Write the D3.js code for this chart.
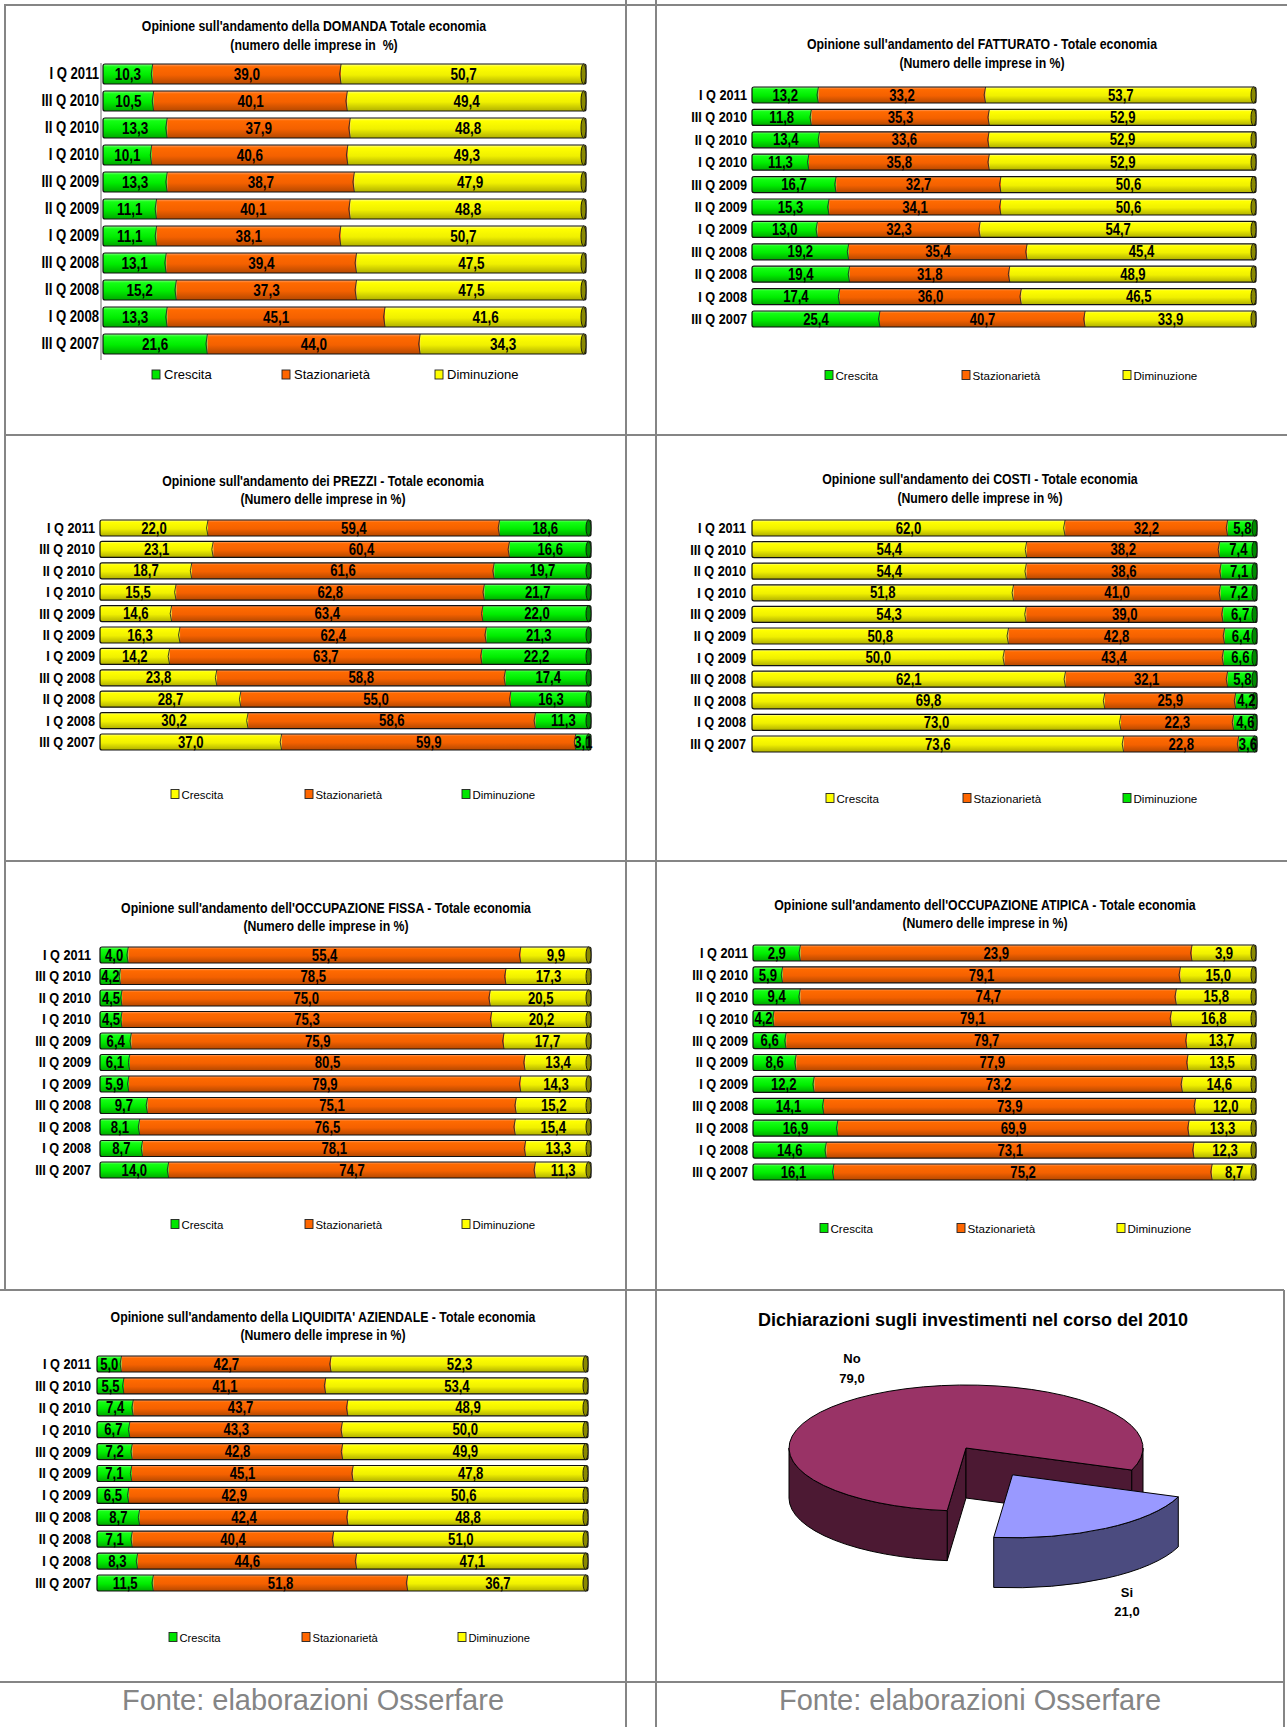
<!DOCTYPE html>
<html>
<head>
<meta charset="utf-8">
<script src="https://cdn.jsdelivr.net/npm/d3@7"></script>
<style>
  body { margin: 0; background: #fff; }
  svg { display: block; }
  text { font-family: "Liberation Sans", Arial, sans-serif; fill: #000; }
</style>
</head>
<body>
<svg id="sheet" width="1287" height="1727"></svg>
<script>
// ---------- data ----------
const quarters = ["I Q 2011", "III Q 2010", "II Q 2010", "I Q 2010", "III Q 2009", "II Q 2009",
                  "I Q 2009", "III Q 2008", "II Q 2008", "I Q 2008", "III Q 2007"];
const seriesNames = ["Crescita", "Stazionarietà", "Diminuzione"];

// DOMANDA
const domandaCrescita      = [10.3, 10.5, 13.3, 10.1, 13.3, 11.1, 11.1, 13.1, 15.2, 13.3, 21.6];
const domandaStazionarieta = [39.0, 40.1, 37.9, 40.6, 38.7, 40.1, 38.1, 39.4, 37.3, 45.1, 44.0];
const domandaDiminuzione   = [50.7, 49.4, 48.8, 49.3, 47.9, 48.8, 50.7, 47.5, 47.5, 41.6, 34.3];
// FATTURATO
const fatturatoCrescita      = [13.2, 11.8, 13.4, 11.3, 16.7, 15.3, 13.0, 19.2, 19.4, 17.4, 25.4];
const fatturatoStazionarieta = [33.2, 35.3, 33.6, 35.8, 32.7, 34.1, 32.3, 35.4, 31.8, 36.0, 40.7];
const fatturatoDiminuzione   = [53.7, 52.9, 52.9, 52.9, 50.6, 50.6, 54.7, 45.4, 48.9, 46.5, 33.9];
// PREZZI
const prezziCrescita      = [22.0, 23.1, 18.7, 15.5, 14.6, 16.3, 14.2, 23.8, 28.7, 30.2, 37.0];
const prezziStazionarieta = [59.4, 60.4, 61.6, 62.8, 63.4, 62.4, 63.7, 58.8, 55.0, 58.6, 59.9];
const prezziDiminuzione   = [18.6, 16.6, 19.7, 21.7, 22.0, 21.3, 22.2, 17.4, 16.3, 11.3, 3.1];
// COSTI
const costiCrescita      = [62.0, 54.4, 54.4, 51.8, 54.3, 50.8, 50.0, 62.1, 69.8, 73.0, 73.6];
const costiStazionarieta = [32.2, 38.2, 38.6, 41.0, 39.0, 42.8, 43.4, 32.1, 25.9, 22.3, 22.8];
const costiDiminuzione   = [5.8, 7.4, 7.1, 7.2, 6.7, 6.4, 6.6, 5.8, 4.2, 4.6, 3.6];
// OCCUPAZIONE FISSA
const fissaCrescita      = [4.0, 4.2, 4.5, 4.5, 6.4, 6.1, 5.9, 9.7, 8.1, 8.7, 14.0];
const fissaStazionarieta = [55.4, 78.5, 75.0, 75.3, 75.9, 80.5, 79.9, 75.1, 76.5, 78.1, 74.7];
const fissaDiminuzione   = [9.9, 17.3, 20.5, 20.2, 17.7, 13.4, 14.3, 15.2, 15.4, 13.3, 11.3];
// OCCUPAZIONE ATIPICA
const atipicaCrescita      = [2.9, 5.9, 9.4, 4.2, 6.6, 8.6, 12.2, 14.1, 16.9, 14.6, 16.1];
const atipicaStazionarieta = [23.9, 79.1, 74.7, 79.1, 79.7, 77.9, 73.2, 73.9, 69.9, 73.1, 75.2];
const atipicaDiminuzione   = [3.9, 15.0, 15.8, 16.8, 13.7, 13.5, 14.6, 12.0, 13.3, 12.3, 8.7];
// LIQUIDITA' AZIENDALE
const liquiditaCrescita      = [5.0, 5.5, 7.4, 6.7, 7.2, 7.1, 6.5, 8.7, 7.1, 8.3, 11.5];
const liquiditaStazionarieta = [42.7, 41.1, 43.7, 43.3, 42.8, 45.1, 42.9, 42.4, 40.4, 44.6, 51.8];
const liquiditaDiminuzione   = [52.3, 53.4, 48.9, 50.0, 49.9, 47.8, 50.6, 48.8, 51.0, 47.1, 36.7];
// investimenti 2010
const pieLabels = ["No", "Si"];
const pieValues = [79.0, 21.0];

const sourceNote = "Fonte: elaborazioni Osserfare";

// ---------- styles ----------
const palette = {
  green:  { stops: ["#8cff8c", "#14ff14", "#00ec00", "#00a800"], flat: "#00e600", cap: "#008a00" },
  orange: { stops: ["#ffa470", "#ff6a00", "#f46100", "#b54800"], flat: "#ff6600", cap: "#9a3d00" },
  yellow: { stops: ["#ffffa0", "#ffff00", "#f0f000", "#b0b000"], flat: "#ffff00", cap: "#8a8a00" }
};
const NARROW = 0.82;
const fmt = v => d3.format(".1f")(v).replace(".", ",");

const svg = d3.select("#sheet");
const defs = svg.append("defs");
Object.entries(palette).forEach(([name, p]) => {
  const lg = defs.append("linearGradient").attr("id", "g-" + name)
    .attr("x1", 0).attr("y1", 0).attr("x2", 0).attr("y2", 1);
  [0, 0.14, 0.55, 1].forEach((o, i) => lg.append("stop").attr("offset", o).attr("stop-color", p.stops[i]));
});

function narrowText(parent, x, y, txt, size, anchor, weight) {
  const g = parent.append("g").attr("transform", `translate(${x},${y}) scale(${NARROW},1)`);
  g.append("text").attr("text-anchor", anchor).attr("font-size", size)
    .attr("font-weight", weight).style("white-space", "pre").text(txt);
}

// ---------- page grid ----------
const grid = svg.append("g").attr("stroke", "#858585").attr("stroke-width", 2);
[[5, 5, 1287, 5], [5, 435, 1287, 435], [5, 861, 1287, 861], [0, 1290, 1284, 1290], [0, 1682, 1284, 1682],
 [5, 4, 5, 1290], [626, 0, 626, 1727], [656, 0, 656, 1727], [1284, 1290, 1284, 1727]]
  .forEach(([x1, y1, x2, y2]) => grid.append("line").attr("x1", x1).attr("y1", y1).attr("x2", x2).attr("y2", y2));

// ---------- 100% stacked cylinder bars ----------
function barChart(cfg, series, colors) {
  const g = svg.append("g");
  const rows = quarters.map((q, i) => ({ q, c: series[0][i], s: series[1][i], d: series[2][i] }));
  const keys = ["c", "s", "d"];

  const pad = 1 - cfg.h / cfg.pitch;
  const r0 = cfg.top - pad / 2 * cfg.pitch;
  const y = d3.scaleBand().domain(quarters).range([r0, r0 + cfg.pitch * quarters.length])
    .paddingInner(pad).paddingOuter(pad / 2);
  const x = d3.scaleLinear().domain([0, 1]).range([cfg.x0, cfg.x1]);
  const layers = d3.stack().keys(keys).offset(d3.stackOffsetExpand)(rows);
  const bw = y.bandwidth();

  // title
  narrowText(g, cfg.tx, cfg.ty1, cfg.title1, 15, "middle", "bold");
  narrowText(g, cfg.tx, cfg.ty2, cfg.title2, 15, "middle", "bold");

  // category axis
  const ax = g.append("g").attr("transform", `translate(${cfg.labelRight},0)`)
    .call(d3.axisLeft(y).tickSize(0).tickPadding(0));
  ax.select(".domain").remove();
  ax.selectAll("text").attr("font-size", cfg.catFont).attr("font-weight", "bold")
    .attr("font-family", "Liberation Sans, Arial, sans-serif").attr("fill", "#000")
    .attr("transform", `scale(${NARROW},1)`);
  if (cfg.axisLine) {
    g.append("line").attr("x1", cfg.x0 - 2).attr("x2", cfg.x0 - 2)
      .attr("y1", y(quarters[0]) - 1).attr("y2", y(quarters[quarters.length - 1]) + bw + 6)
      .attr("stroke", "#a0a0a0").attr("stroke-width", 1.5);
  }

  // segments
  layers.forEach((layer, li) => {
    const col = colors[li];
    g.append("g").selectAll("rect").data(layer).join("rect")
      .attr("x", d => x(d[0])).attr("width", d => x(d[1]) - x(d[0]))
      .attr("y", d => y(d.data.q)).attr("height", bw)
      .attr("fill", `url(#g-${col})`);
  });
  // segment joins (curved section edges)
  layers.slice(1).forEach(layer => {
    g.append("g").selectAll("path").data(layer).join("path")
      .attr("d", d => {
        const xx = x(d[0]), yt = y(d.data.q);
        return `M${xx},${yt} Q${xx - 3},${yt + bw / 2} ${xx},${yt + bw}`;
      })
      .attr("fill", "none").attr("stroke", "#2a2a2a").attr("stroke-width", 0.9);
  });
  // outline + end cap
  g.append("g").selectAll("rect").data(rows).join("rect")
    .attr("x", x(0)).attr("width", x(1) - x(0)).attr("y", d => y(d.q)).attr("height", bw)
    .attr("rx", 2).attr("fill", "none").attr("stroke", "#111").attr("stroke-width", 1.2);
  const lastCol = palette[colors[2]];
  g.append("g").selectAll("ellipse").data(rows).join("ellipse")
    .attr("cx", x(1) - 2.5).attr("cy", d => y(d.q) + bw / 2).attr("rx", 2.5).attr("ry", bw / 2)
    .attr("fill", lastCol.cap).attr("stroke", "#111").attr("stroke-width", 0.9);

  // value labels (condensed bold)
  layers.forEach((layer, li) => {
    g.append("g").selectAll("text").data(layer).join("text")
      .attr("transform", d => `translate(${(x(d[0]) + x(d[1])) / 2},${y(d.data.q) + bw / 2 + 5.6}) scale(${NARROW},1)`)
      .attr("text-anchor", "middle").attr("font-size", cfg.valueFont).attr("font-weight", "bold")
      .text(d => fmt(d.data[keys[li]]));
  });

  // legend
  const lg = g.append("g");
  seriesNames.forEach((name, i) => {
    const sx = cfg.legendX[i];
    lg.append("rect").attr("x", sx).attr("y", cfg.ly - 4.5).attr("width", 8).attr("height", 9)
      .attr("fill", palette[colors[i]].flat).attr("stroke", "#222").attr("stroke-width", 0.9);
    lg.append("text").attr("x", sx + cfg.legendGap).attr("y", cfg.ly + 4.5)
      .attr("font-size", cfg.legendFont).text(name);
  });
}

const GYO = ["green", "orange", "yellow"];
const YOG = ["yellow", "orange", "green"];

barChart({ title1: "Opinione sull'andamento della DOMANDA Totale economia", title2: "(numero delle imprese in  %)",
  tx: 314, ty1: 31, ty2: 50, x0: 103, x1: 586, top: 64, pitch: 27, h: 20, labelRight: 99, axisLine: true,
  catFont: 16, valueFont: 16.5, ly: 374.5, legendX: [152, 282, 435], legendGap: 12, legendFont: 13 },
  [domandaCrescita, domandaStazionarieta, domandaDiminuzione], GYO);

barChart({ title1: "Opinione sull'andamento del FATTURATO - Totale economia", title2: "(Numero delle imprese in %)",
  tx: 982, ty1: 49, ty2: 68, x0: 752, x1: 1256, top: 87, pitch: 22.4, h: 16, labelRight: 747,
  catFont: 15.5, valueFont: 16, ly: 375, legendX: [825, 962, 1123], legendGap: 10.5, legendFont: 11.6 },
  [fatturatoCrescita, fatturatoStazionarieta, fatturatoDiminuzione], GYO);

barChart({ title1: "Opinione sull'andamento dei PREZZI - Totale economia", title2: "(Numero delle imprese in %)",
  tx: 323, ty1: 486, ty2: 504, x0: 100, x1: 591, top: 520, pitch: 21.4, h: 16, labelRight: 95,
  catFont: 15.5, valueFont: 16, ly: 794, legendX: [171, 305, 462], legendGap: 10.5, legendFont: 11.4 },
  [prezziCrescita, prezziStazionarieta, prezziDiminuzione], YOG);

barChart({ title1: "Opinione sull'andamento dei COSTI - Totale economia", title2: "(Numero delle imprese in %)",
  tx: 980, ty1: 484, ty2: 503, x0: 752, x1: 1257, top: 520, pitch: 21.6, h: 16, labelRight: 746,
  catFont: 15.5, valueFont: 16, ly: 798, legendX: [826, 963, 1123], legendGap: 10.5, legendFont: 11.6 },
  [costiCrescita, costiStazionarieta, costiDiminuzione], YOG);

barChart({ title1: "Opinione sull'andamento dell'OCCUPAZIONE FISSA - Totale economia", title2: "(Numero delle imprese in %)",
  tx: 326, ty1: 913, ty2: 931, x0: 100, x1: 591, top: 947, pitch: 21.5, h: 16, labelRight: 91,
  catFont: 15.5, valueFont: 16, ly: 1224, legendX: [171, 305, 462], legendGap: 10.5, legendFont: 11.4 },
  [fissaCrescita, fissaStazionarieta, fissaDiminuzione], GYO);

barChart({ title1: "Opinione sull'andamento dell'OCCUPAZIONE ATIPICA - Totale economia", title2: "(Numero delle imprese in %)",
  tx: 985, ty1: 910, ty2: 928, x0: 753, x1: 1256, top: 945, pitch: 21.9, h: 16, labelRight: 748,
  catFont: 15.5, valueFont: 16, ly: 1228, legendX: [820, 957, 1117], legendGap: 10.5, legendFont: 11.6 },
  [atipicaCrescita, atipicaStazionarieta, atipicaDiminuzione], GYO);

barChart({ title1: "Opinione sull'andamento della LIQUIDITA' AZIENDALE - Totale economia", title2: "(Numero delle imprese in %)",
  tx: 323, ty1: 1322, ty2: 1340, x0: 97, x1: 588, top: 1356, pitch: 21.9, h: 16, labelRight: 91,
  catFont: 15.5, valueFont: 16, ly: 1637, legendX: [169, 302, 458], legendGap: 10.5, legendFont: 11.2 },
  [liquiditaCrescita, liquiditaStazionarieta, liquiditaDiminuzione], GYO);

// ---------- 3D pie: investimenti ----------
(function pie3d() {
  const g = svg.append("g");
  const cx = 966, cy = 1448, rx = 177, ry = 63, depth = 50, explode = 0.5;
  const topCol = ["#993366", "#9999ff"], sideCol = ["#4c1933", "#4b4b7f"];
  const rad = a => a * Math.PI / 180;
  const slices = d3.pie().sort(null).startAngle(rad(186.1)).endAngle(rad(186.1 + 360))(pieValues);

  g.append("text").attr("x", 973).attr("y", 1326).attr("text-anchor", "middle")
    .attr("font-size", 18).attr("font-weight", "bold").text("Dichiarazioni sugli investimenti nel corso del 2010");

  const pt = (ox, oy, t, dz = 0) => [ox + rx * Math.cos(t), oy + ry * Math.sin(t) + dz];
  const arcTo = (p, large, sweep) => `A${rx},${ry} 0 ${large} ${sweep} ${p[0]},${p[1]}`;

  slices.forEach((s, i) => {
    // screen angle measured clockwise from 3 o'clock
    const a0 = s.startAngle - Math.PI / 2, a1 = s.endAngle - Math.PI / 2;
    const mid = (a0 + a1) / 2;
    const ox = cx + (i === 1 ? explode * rx * Math.cos(mid) : 0);
    const oy = cy + (i === 1 ? explode * ry * Math.sin(mid) : 0);
    const draw = (d, fill) => g.append("path").attr("d", d).attr("fill", fill)
      .attr("stroke", "#000").attr("stroke-width", 1).attr("stroke-linejoin", "round");

    if (i === 0) {
      // inner cut walls of the remaining slice
      [a0, a1].forEach(a => {
        const e = pt(ox, oy, a), eb = pt(ox, oy, a, depth);
        draw(`M${ox},${oy} L${e[0]},${e[1]} L${eb[0]},${eb[1]} L${ox},${oy + depth} Z`, sideCol[i]);
      });
    }
    // outer side, only the front half of the ellipse is visible
    const TWO = 2 * Math.PI;
    [[0, Math.PI], [TWO, TWO + Math.PI], [-TWO, -Math.PI]].forEach(([f0, f1]) => {
      const b0 = Math.max(a0, f0), b1 = Math.min(a1, f1);
      if (b1 <= b0) return;
      const t0 = pt(ox, oy, b0), t1 = pt(ox, oy, b1), u1 = pt(ox, oy, b1, depth), u0 = pt(ox, oy, b0, depth);
      draw(`M${t0[0]},${t0[1]} ${arcTo(t1, 0, 1)} L${u1[0]},${u1[1]} ${arcTo(u0, 0, 0)} Z`, sideCol[i]);
    });
    // top face
    const p0 = pt(ox, oy, a0), p1 = pt(ox, oy, a1);
    draw(`M${ox},${oy} L${p0[0]},${p0[1]} ${arcTo(p1, a1 - a0 > Math.PI ? 1 : 0, 1)} Z`, topCol[i]);
  });

  const labelPos = [[852, 1363, 1383], [1127, 1597, 1616]];
  pieLabels.forEach((lab, i) => {
    const [lx, ly1, ly2] = labelPos[i];
    g.append("text").attr("x", lx).attr("y", ly1).attr("text-anchor", "middle")
      .attr("font-size", 13).attr("font-weight", "bold").text(lab);
    g.append("text").attr("x", lx).attr("y", ly2).attr("text-anchor", "middle")
      .attr("font-size", 13).attr("font-weight", "bold").text(fmt(pieValues[i]));
  });
})();

// ---------- source notes ----------
[313, 970].forEach(cx => svg.append("text").attr("x", cx).attr("y", 1710).attr("text-anchor", "middle")
  .attr("font-size", 29).style("fill", "#858585").text(sourceNote));
</script>
</body>
</html>
